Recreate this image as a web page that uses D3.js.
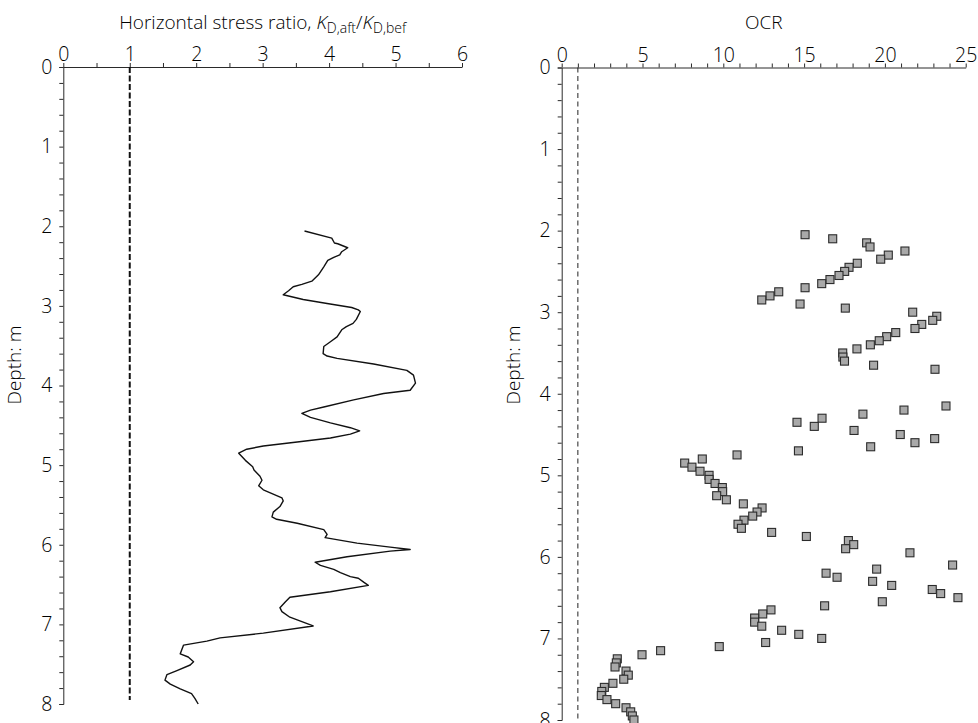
<!DOCTYPE html>
<html><head><meta charset="utf-8">
<script src="https://cdn.jsdelivr.net/npm/d3@7"></script>
<style>
body{margin:0;background:#fff;}
text{font-family:"Open Sans",sans-serif;font-weight:300;fill:#000;}
</style></head>
<body><svg id="c" width="978" height="723"></svg>
<script>
// Left panel: horizontal stress ratio vs depth
const leftDepth = [2.06,2.15,2.21,2.22,2.27,2.32,2.36,2.39,2.43,2.51,
 2.61,2.69,2.73,2.76,2.81,2.86,2.92,2.97,3.02,3.05,
 3.07,3.17,3.22,3.26,3.30,3.39,3.45,3.51,3.60,3.63,
 3.66,3.73,3.81,3.87,3.97,4.06,4.10,4.18,4.27,4.31,
 4.35,4.40,4.47,4.53,4.57,4.61,4.66,4.71,4.76,4.80,
 4.85,4.94,5.02,5.06,5.14,5.19,5.26,5.31,5.41,5.45,
 5.52,5.59,5.65,5.68,5.73,5.81,5.87,5.91,5.98,6.03,
 6.06,6.08,6.15,6.22,6.26,6.31,6.35,6.40,6.42,6.47,
 6.51,6.59,6.66,6.72,6.79,6.84,6.91,6.96,7.02,7.11,
 7.17,7.21,7.26,7.37,7.41,7.47,7.51,7.58,7.63,7.70,
 7.75,7.81,7.87,7.93,8.00];
const leftRatio = [3.63,4.04,4.08,4.13,4.28,4.19,4.16,4.07,3.98,3.92,
 3.84,3.74,3.59,3.46,3.39,3.31,3.61,3.97,4.34,4.44,
 4.47,4.41,4.36,4.26,4.19,4.12,4.02,3.92,3.91,3.97,
 4.12,4.67,5.17,5.27,5.30,5.22,4.82,4.37,3.92,3.72,
 3.59,3.72,4.02,4.32,4.46,4.32,4.02,3.52,3.01,2.76,
 2.64,2.74,2.85,2.87,2.96,2.99,2.94,3.01,3.29,3.31,
 3.26,3.16,3.14,3.21,3.52,3.92,3.97,3.94,4.42,4.92,
 5.22,4.92,4.27,3.79,3.87,4.07,4.17,4.32,4.44,4.52,
 4.59,4.02,3.41,3.34,3.26,3.29,3.41,3.57,3.76,3.01,
 2.36,2.16,1.81,1.76,1.88,1.96,1.91,1.71,1.56,1.53,
 1.61,1.76,1.93,1.98,2.03];

// Right panel: OCR vs depth
const ocrDepth = [2.05,2.10,2.15,2.20,2.25,2.30,2.35,2.40,2.45,2.50,
 2.55,2.60,2.65,2.70,2.75,2.80,2.85,2.90,2.95,3.00,
 3.05,3.10,3.15,3.20,3.25,3.30,3.35,3.40,3.45,3.50,
 3.55,3.60,3.65,3.70,
 4.15,4.20,4.25,4.30,4.35,4.40,4.45,4.50,4.55,4.60,
 4.65,4.70,4.75,4.80,4.85,4.90,4.95,5.00,5.05,5.10,
 5.15,5.20,5.25,5.30,5.35,5.40,5.45,5.50,5.55,5.60,
 5.65,5.70,5.75,5.80,5.85,5.90,5.95,
 6.10,6.15,6.20,6.25,6.30,6.35,6.40,6.45,6.50,6.55,
 6.60,6.65,6.70,6.75,6.80,6.85,6.90,6.95,7.00,7.05,
 7.10,7.15,7.20,7.25,7.30,7.35,7.40,7.45,7.50,7.55,
 7.60,7.65,7.70,7.75,7.80,7.85,7.90,7.95,8.00];
const ocrValue = [15.06,16.77,18.87,19.08,21.24,20.21,19.74,18.29,17.78,17.51,
 17.16,16.60,16.09,15.06,13.43,12.89,12.38,14.75,17.55,21.72,
 23.21,22.96,22.28,21.86,20.67,20.11,19.65,19.10,18.27,17.39,
 17.40,17.50,19.30,23.10,
 23.78,21.18,18.64,16.11,14.56,15.63,18.09,20.95,23.08,21.86,
 19.12,14.65,10.85,8.70,7.61,8.06,8.56,9.12,9.12,9.49,
 9.94,9.96,9.59,10.19,11.24,12.40,12.09,11.82,11.28,10.91,
 11.12,12.99,15.14,17.74,18.07,17.57,21.55,
 24.19,19.49,16.36,17.04,19.24,20.42,22.93,23.45,24.52,19.84,
 16.27,12.95,12.44,11.94,11.94,12.38,13.61,14.67,16.09,12.62,
 9.75,6.12,4.97,3.44,3.38,3.30,3.98,4.12,3.84,3.17,
 2.64,2.48,2.45,2.80,3.34,3.98,4.27,4.37,4.47];

const leftTicks = [0,1,2,3,4,5,6];
const rightTicks = [0,5,10,15,20,25];
const depthTicks = [0,1,2,3,4,5,6,7,8];
const refLeft = 1, refRight = 1;

const svg = d3.select("#c");
const ink = "#2a2a2a";
const FS = 19.5;

function depthAxis(g, y) {
  const ax = d3.axisLeft(y).tickValues(d3.range(0, 8.001, 0.2)).tickSize(4)
    .tickFormat(d => depthTicks.some(t => Math.abs(t - d) < 1e-6) ? d3.format("d")(Math.round(d)) : "");
  g.call(ax);
  g.select(".domain").attr("stroke", ink);
  g.selectAll(".tick line").attr("stroke", ink);
  g.selectAll(".tick text").attr("font-size", FS).attr("x", -11)
    .style("font-family", '"Open Sans",sans-serif').style("font-weight", 300).attr("fill", "#000");
}
function topAxis(g, x, minor, majors) {
  const d = x.domain();
  const ax = d3.axisTop(x).tickValues(d3.range(d[0], d[1] + 1e-6, minor)).tickSize(4).tickSizeOuter(0)
    .tickFormat(v => majors.some(t => Math.abs(t - v) < 1e-6) ? d3.format("d")(Math.round(v)) : "");
  g.call(ax);
  g.select(".domain").attr("stroke", ink);
  g.selectAll(".tick line").attr("stroke", ink);
  g.selectAll(".tick text").attr("font-size", FS).attr("y", -6)
    .style("font-family", '"Open Sans",sans-serif').style("font-weight", 300).attr("fill", "#000");
}

// ---- Left panel ----
const xL = d3.scaleLinear().domain([0, 6]).range([63.3, 462]);
const yL = d3.scaleLinear().domain([0, 8]).range([67, 704]);
const gL = svg.append("g");
gL.append("g").attr("transform", `translate(0,${yL(0)})`).call(g => topAxis(g, xL, 0.5, leftTicks));
gL.append("g").attr("transform", `translate(${xL(0)},0)`).call(g => depthAxis(g, yL));
gL.append("line").attr("x1", xL(refLeft)).attr("x2", xL(refLeft)).attr("y1", yL(0)).attr("y2", yL(7.95))
  .attr("stroke", "#111").attr("stroke-width", 2).attr("stroke-dasharray", "6,2.5");
const lineL = d3.line().x((d, i) => xL(leftRatio[i])).y(d => yL(d));
gL.append("path").attr("d", lineL(leftDepth)).attr("fill", "none").attr("stroke", "#111").attr("stroke-width", 1.4)
  .attr("stroke-linejoin", "round");
const tL = gL.append("text").attr("x", (xL(0) + xL(6)) / 2).attr("y", 29).attr("text-anchor", "middle").attr("font-size", 19);
tL.append("tspan").text("Horizontal stress ratio, ");
tL.append("tspan").attr("font-style", "italic").text("K");
tL.append("tspan").attr("font-size", 14).attr("dy", 4).text("D,aft");
tL.append("tspan").attr("dy", -4).text("/");
tL.append("tspan").attr("font-style", "italic").text("K");
tL.append("tspan").attr("font-size", 14).attr("dy", 4).text("D,bef");
gL.append("text").attr("transform", `translate(21,365) rotate(-90)`).attr("text-anchor", "middle").attr("font-size", 19).text("Depth: m");

// ---- Right panel ----
const xR = d3.scaleLinear().domain([0, 25]).range([561.7, 965.7]);
const yR = d3.scaleLinear().domain([0, 8]).range([67.5, 720]);
const gR = svg.append("g");
gR.append("g").attr("transform", `translate(0,${yR(0)})`).call(g => topAxis(g, xR, 1, rightTicks));
gR.append("g").attr("transform", `translate(${xR(0)},0)`).call(g => depthAxis(g, yR));
gR.append("line").attr("x1", xR(refRight)).attr("x2", xR(refRight)).attr("y1", yR(0)).attr("y2", yR(8))
  .attr("stroke", "#222").attr("stroke-width", 1).attr("stroke-dasharray", "5,3.5");
const sq = 8;
gR.selectAll("rect.pt").data(ocrDepth).enter().append("rect").attr("class", "pt")
  .attr("x", (d, i) => xR(ocrValue[i]) - sq / 2).attr("y", d => yR(d) - sq / 2)
  .attr("width", sq).attr("height", sq)
  .attr("fill", "#a9a9a9").attr("stroke", "#2b2b2b").attr("stroke-width", 1.1);
gR.append("text").attr("x", (xR(0) + xR(25)) / 2).attr("y", 29).attr("text-anchor", "middle").attr("font-size", 19).text("OCR");
gR.append("text").attr("transform", `translate(520,365) rotate(-90)`).attr("text-anchor", "middle").attr("font-size", 19).text("Depth: m");
</script></body></html>
